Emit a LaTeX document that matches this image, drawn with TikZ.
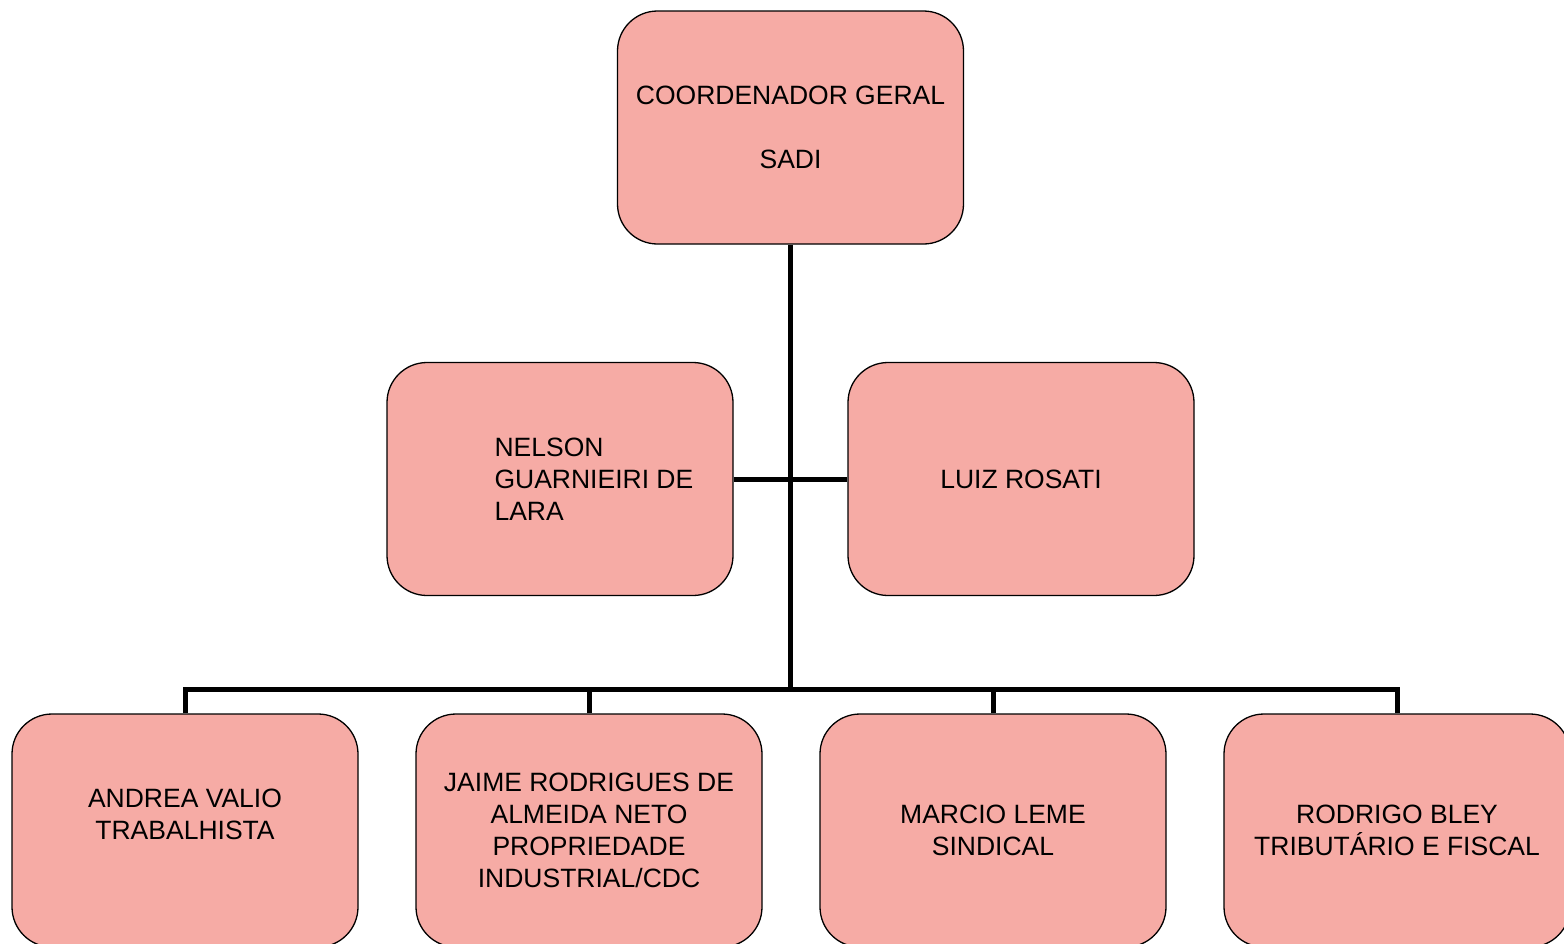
\documentclass[tikz,border=0pt]{standalone}
\usepackage{fontspec}
\setmainfont{Liberation Sans}
\usetikzlibrary{positioning}
\definecolor{boxpink}{RGB}{246,171,165}

\begin{document}
\begin{tikzpicture}[x=1pt, y=-1pt,
        cargo/.style={draw=black, line width=1.3pt, fill=boxpink,
            rounded corners=40pt, minimum width=346pt, minimum height=233pt,
            align=center, inner sep=0pt, font=\fontsize{26.5}{31.8}\selectfont},
        texto/.style={align=left, inner sep=0pt, font=\fontsize{26.5}{31.8}\selectfont},
        linha/.style={line width=5pt}]

        % Page size (pixels of the original)
        \useasboundingbox (0,0) rectangle (1564,943);

        % Coordenador
        \node[cargo] (coord) at (790.5,127.5) {COORDENADOR GERAL\\[31.8pt]SADI};

        % Segundo nivel
        \node[cargo] (nelson) at (560,479) {};
        \node[texto, right=108pt of nelson.west] (nelsontxt) {NELSON\\GUARNIEIRI DE\\LARA};
        \node[cargo] (luiz) at (1021,479) {LUIZ ROSATI};

        % Terceiro nivel
        \node[cargo] (andrea) at (185,830.5) {ANDREA VALIO\\TRABALHISTA\\\mbox{}};
        \node[cargo, right=56.7pt of andrea] (jaime)
            {JAIME RODRIGUES DE\\ALMEIDA NETO\\PROPRIEDADE\\INDUSTRIAL/CDC};
        \node[cargo, right=56.7pt of jaime] (marcio) {MARCIO LEME\\SINDICAL};
        \node[cargo, right=56.7pt of marcio] (rodrigo) {RODRIGO BLEY\\TRIBUT\'ARIO E FISCAL};

        % Ligacoes
        \coordinate (nivel) at (0,689);
        \coordinate (juncao) at (coord.south |- nivel);

        \draw[linha] (coord.south) -- (juncao);
        \draw[linha] (nelson.east) -- (luiz.west);
        \foreach \n in {andrea,jaime,marcio,rodrigo}
            \draw[linha] (\n.north) |- (juncao);

\end{tikzpicture}
\end{document}
